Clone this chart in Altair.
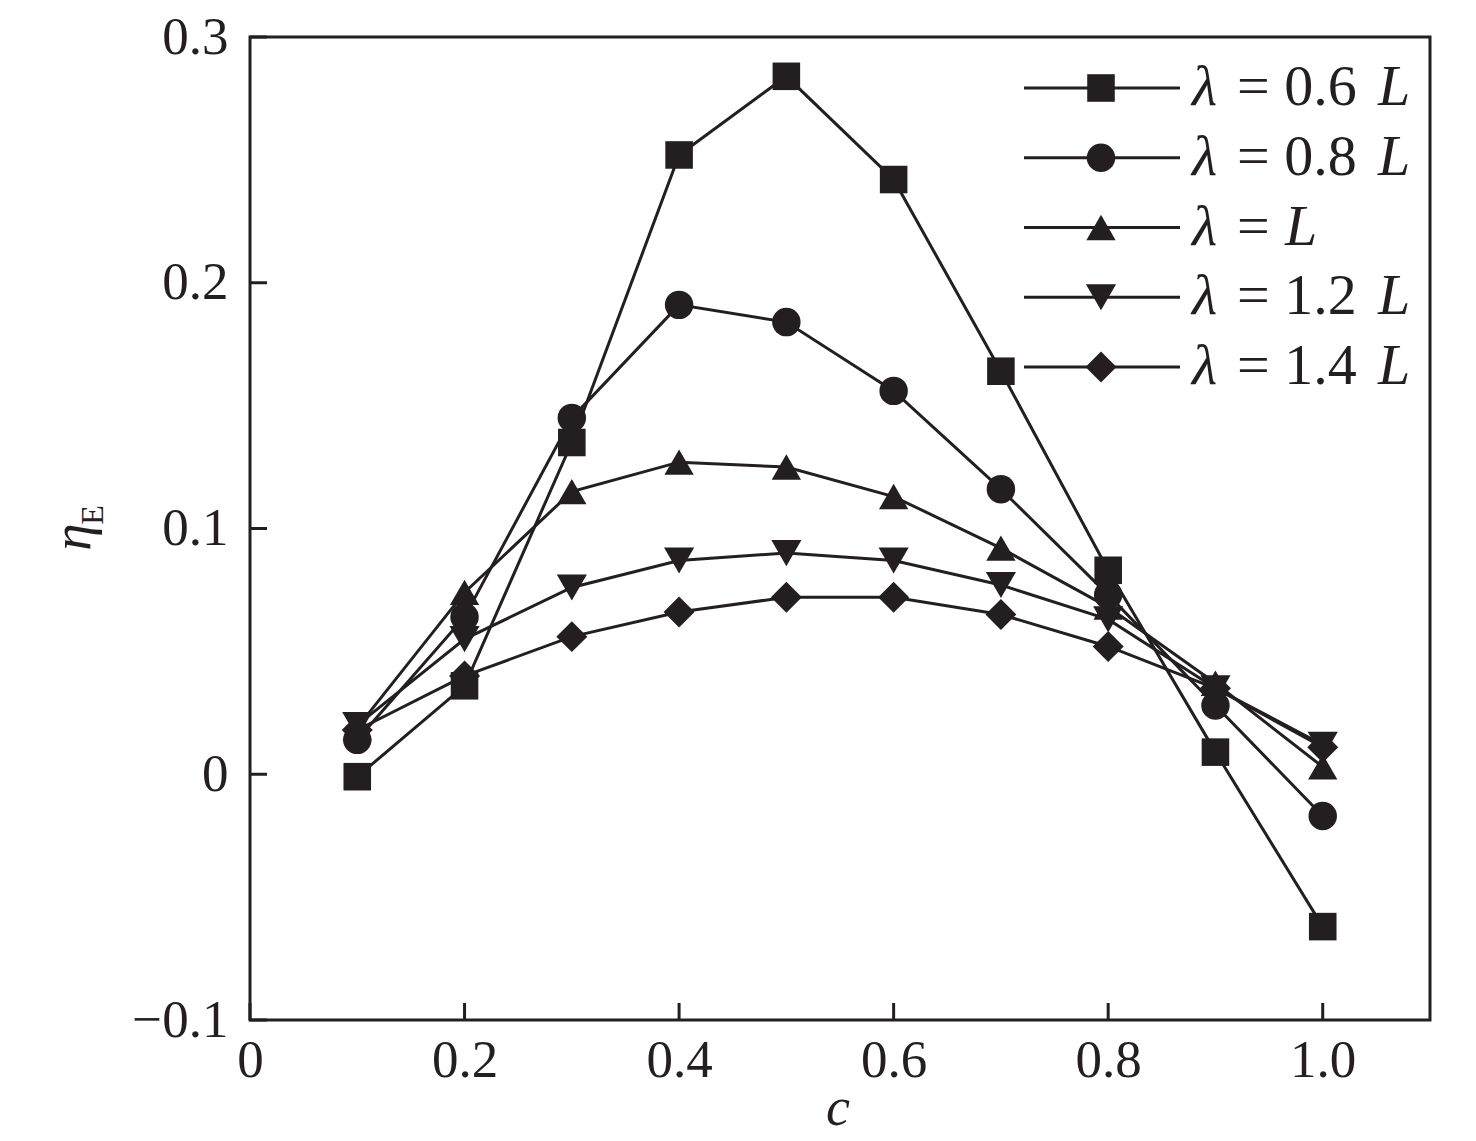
import altair as alt
import pandas as pd

INK = "#231f20"
FONT = "Liberation Serif"

c_vals = [0.1, 0.2, 0.3, 0.4, 0.5, 0.6, 0.7, 0.8, 0.9, 1.0]
series_labels = ["λ = 0.6 L", "λ = 0.8 L", "λ = L", "λ = 1.2 L", "λ = 1.4 L"]
legend_nums = ["= 0.6", "= 0.8", "=", "= 1.2", "= 1.4"]
legend_rows = [0, 1, 2, 3, 4]

eta_06 = [-0.001, 0.036, 0.135, 0.252, 0.284, 0.242, 0.164, 0.083, 0.009, -0.062]
eta_08 = [0.014, 0.064, 0.145, 0.191, 0.184, 0.156, 0.116, 0.073, 0.028, -0.017]
eta_10 = [0.019, 0.074, 0.115, 0.127, 0.125, 0.113, 0.092, 0.068, 0.037, 0.003]
eta_12 = [0.020, 0.055, 0.076, 0.087, 0.090, 0.087, 0.077, 0.063, 0.035, 0.012]
eta_14 = [0.018, 0.040, 0.056, 0.066, 0.072, 0.072, 0.065, 0.052, 0.035, 0.011]

x_ticks = [0, 0.2, 0.4, 0.6, 0.8, 1.0]
y_ticks = [-0.1, 0, 0.1, 0.2, 0.3]

shapes = ["square", "circle", "triangle-up", "triangle-down", "diamond"]
sizes = [760, 960, 1550, 1550, 1400]

rows = []
for lab, vals in zip(series_labels, [eta_06, eta_08, eta_10, eta_12, eta_14]):
    for c, v in zip(c_vals, vals):
        rows.append({"series": lab, "c": c, "eta": v})
df = pd.DataFrame(rows)

W, H = 1180, 983

xenc = alt.X(
    "c:Q",
    scale=alt.Scale(domain=[0, 1.1], nice=False, zero=False),
    axis=alt.Axis(
        values=x_ticks, title=None, ticks=False, domain=False, grid=False,
        labelExpr="datum.value == 0 ? '0' : format(datum.value, '.1f')",
        labelFont=FONT, labelFontSize=53, labelColor=INK, labelPadding=14,
        labelFlush=False,
    ),
)
yenc = alt.Y(
    "eta:Q",
    scale=alt.Scale(domain=[-0.1, 0.3], nice=False, zero=False),
    axis=alt.Axis(
        values=y_ticks, title=None, ticks=False, domain=False, grid=False,
        labelExpr="datum.value == 0 ? '0' : replace(format(datum.value, '.1f'), '-', '\u2212')",
        labelFont=FONT, labelFontSize=53, labelColor=INK, labelPadding=22,
        labelFlush=False,
    ),
)

shape_enc = alt.Shape("series:N", scale=alt.Scale(domain=series_labels, range=shapes), legend=None)
size_enc = alt.Size("series:N", scale=alt.Scale(domain=series_labels, range=sizes), legend=None)

base = alt.Chart(df)
lines = base.mark_line(color=INK, strokeWidth=3).encode(
    x=xenc, y=yenc, detail="series:N", order="c:Q"
)
points = base.mark_point(filled=True, opacity=1, color=INK).encode(
    x=xenc, y=yenc, shape=shape_enc, size=size_enc
)

# inward ticks
xt = alt.Chart(pd.DataFrame({"c": x_ticks})).mark_tick(
    color=INK, orient="vertical", size=17, thickness=3, opacity=1
).encode(x=xenc, y=alt.value(H - 8.5))
yt = alt.Chart(pd.DataFrame({"eta": y_ticks})).mark_rule(color=INK, strokeWidth=3).encode(
    y=yenc, x=alt.value(0), x2=alt.value(17)
)

main = alt.layer(lines, points, xt, yt)

# legend
leg_df = pd.DataFrame({"series": series_labels, "num": legend_nums, "row": legend_rows})
ly = alt.Y("row:Q", scale=alt.Scale(domain=[0, 4], range=[51, 330], nice=False, zero=False), axis=None)
lbase = alt.Chart(leg_df)
leg_line = lbase.mark_rule(color=INK, strokeWidth=3).encode(
    x=alt.value(774), x2=alt.value(930), y=ly
)
leg_pts = lbase.mark_point(filled=True, opacity=1, color=INK).encode(
    x=alt.value(851), y=ly, shape=shape_enc, size=size_enc
)
txt = dict(font=FONT, fontSize=58, align="left", baseline="middle", color=INK)
leg_lam = lbase.mark_text(text="λ", fontStyle="italic", **txt).encode(x=alt.value(942), y=ly)
leg_num = lbase.mark_text(**txt).encode(x=alt.value(987), y=ly, text="num:N")
leg_L1 = lbase.transform_filter("datum.num != '='").mark_text(text="L", fontStyle="italic", **txt).encode(
    x=alt.value(1128), y=ly
)
leg_L2 = lbase.transform_filter("datum.num == '='").mark_text(text="L", fontStyle="italic", **txt).encode(
    x=alt.value(1035), y=ly
)
legend = alt.layer(leg_line, leg_pts, leg_lam, leg_num, leg_L1, leg_L2)

# axis titles
one = pd.DataFrame({"k": [0]})
t_eta = alt.Chart(one).mark_text(
    text="η", font=FONT, fontStyle="italic", fontSize=55, angle=270,
    align="center", baseline="alphabetic", color=INK
).encode(x=alt.value(-160), y=alt.value(500))
t_E = alt.Chart(one).mark_text(
    text="E", font=FONT, fontSize=32, angle=270,
    align="center", baseline="alphabetic", color=INK
).encode(x=alt.value(-147), y=alt.value(478))
t_c = alt.Chart(one).mark_text(
    text="c", font=FONT, fontStyle="italic", fontSize=54,
    align="center", baseline="alphabetic", color=INK
).encode(x=alt.value(588), y=alt.value(1088))

chart = (
    alt.layer(main, legend, t_eta, t_E, t_c)
    .resolve_scale(y="independent")
    .properties(
        width=W, height=H,
        padding={"left": 242, "top": 29, "right": 38, "bottom": 121},
        autosize=alt.AutoSizeParams(type="none"),
        background="white",
    )
    .configure_view(stroke=INK, strokeWidth=3)
)

chart.save("out.html", embed_options={"renderer": "svg", "actions": False})
